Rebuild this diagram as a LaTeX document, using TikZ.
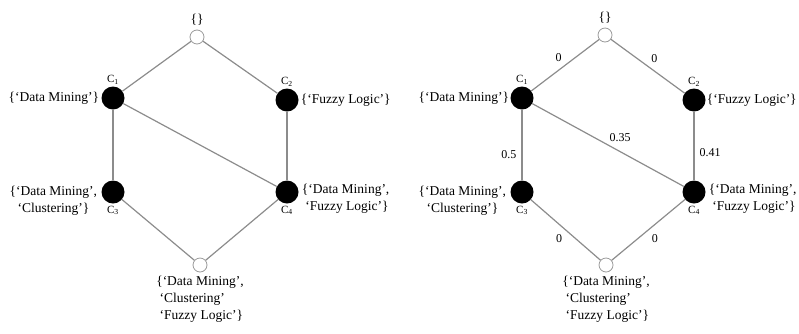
\documentclass[tikz,border=0pt]{standalone}
\usepackage{fontspec}
\setmainfont{Liberation Serif}
\usepackage{xcolor}
\definecolor{cEdge}{HTML}{8C8C8C}
\definecolor{cNode}{HTML}{000000}
\definecolor{cOpen}{HTML}{9A9A9A}
\usepackage{tikz}
\usetikzlibrary{positioning}
\tikzset{
  node-open/.style={circle,draw=cOpen,thick,fill=white,minimum size=14pt,inner sep=0pt},
  node-full/.style={circle,fill=cNode,minimum size=23pt,inner sep=0pt},
  edge-line/.style={draw=cEdge,line width=1.2pt},
  item-text/.style={font=\fontsize{13.5}{17}\selectfont,inner sep=1pt},
  name-text/.style={font=\fontsize{11}{13}\selectfont,inner sep=1pt},
  weight-text/.style={font=\fontsize{12}{14}\selectfont,inner sep=1pt},
}

\begin{document}
\begin{tikzpicture}[x=1pt,y=-1pt]
  \useasboundingbox (0,0) rectangle (799,333);

  % left lattice
  \node[node-open] (lTop) at (197,37)  {};
  \node[node-full] (lC1)  at (113,98)  {};
  \node[node-full] (lC2)  at (287,100) {};
  \node[node-full] (lC3)  at (113,192) {};
  \node[node-full] (lC4)  at (287,192) {};
  \node[node-open] (lBot) at (200,265) {};
  \draw[edge-line] (lTop) -- (lC1);
  \draw[edge-line] (lTop) -- (lC2);
  \draw[edge-line] (lC1) -- (lC3);
  \draw[edge-line] (lC1) -- (lC4);
  \draw[edge-line] (lC2) -- (lC4);
  \draw[edge-line] (lC3) -- (lBot);
  \draw[edge-line] (lC4) -- (lBot);

  \node[item-text,above=3pt of lTop]  (lTopTxt) {\{\}};
  \node[name-text,above=1pt of lC1]   (lC1Nm) {C\textsubscript{1}};
  \node[name-text,above=1pt of lC2]   (lC2Nm) {C\textsubscript{2}};
  \node[name-text,below=1pt of lC3]   (lC3Nm) {C\textsubscript{3}};
  \node[name-text,below=1pt of lC4]   (lC4Nm) {C\textsubscript{4}};
  \node[item-text,left=1pt of lC1]    (lC1Txt) {\{`Data Mining'\}};
  \node[item-text,right=1pt of lC2]   (lC2Txt) {\{`Fuzzy Logic'\}};
  \node[item-text,align=center,left=3pt of lC3,yshift=-9pt] (lC3Txt)
    {\{`Data Mining',\\`Clustering'\}};
  \node[item-text,align=left,right=2pt of lC4,yshift=-7pt] (lC4Txt)
    {\{`Data Mining',\\\ `Fuzzy Logic'\}};
  \node[item-text,align=left,below=3pt of lBot] (lBotTxt)
    {\{`Data Mining',\\\ `Clustering'\\\ `Fuzzy Logic'\}};

  % right lattice, with weights
  \node[node-open] (rTop) at (605,35)  {};
  \node[node-full] (rC1)  at (522,98)  {};
  \node[node-full] (rC2)  at (694,100) {};
  \node[node-full] (rC3)  at (522,192) {};
  \node[node-full] (rC4)  at (694,192) {};
  \node[node-open] (rBot) at (606,265) {};
  \draw[edge-line] (rTop) -- node[weight-text,above left=2pt and 2pt]  {0}    (rC1);
  \draw[edge-line] (rTop) -- node[weight-text,above right=2pt and 2pt] {0}    (rC2);
  \draw[edge-line] (rC1)  -- node[weight-text,left=4pt,yshift=-10pt]  {0.5}  (rC3);
  \draw[edge-line] (rC1)  -- node[weight-text,above=2pt,xshift=12pt]  {0.35} (rC4);
  \draw[edge-line] (rC2)  -- node[weight-text,right=4pt,yshift=-7pt]  {0.41} (rC4);
  \draw[edge-line] (rC3)  -- node[weight-text,below left=3pt and 2pt]  {0}    (rBot);
  \draw[edge-line] (rC4)  -- node[weight-text,below right=3pt and 2pt] {0}    (rBot);

  \node[item-text,above=3pt of rTop]  (rTopTxt) {\{\}};
  \node[name-text,above=1pt of rC1]   (rC1Nm) {C\textsubscript{1}};
  \node[name-text,above=1pt of rC2]   (rC2Nm) {C\textsubscript{2}};
  \node[name-text,below=1pt of rC3]   (rC3Nm) {C\textsubscript{3}};
  \node[name-text,below=1pt of rC4]   (rC4Nm) {C\textsubscript{4}};
  \node[item-text,left=0pt of rC1]    (rC1Txt) {\{`Data Mining'\}};
  \node[item-text,right=0pt of rC2]   (rC2Txt) {\{`Fuzzy Logic'\}};
  \node[item-text,align=center,left=3pt of rC3,yshift=-9pt] (rC3Txt)
    {\{`Data Mining',\\`Clustering'\}};
  \node[item-text,align=left,right=2pt of rC4,yshift=-7pt] (rC4Txt)
    {\{`Data Mining',\\\ `Fuzzy Logic'\}};
  \node[item-text,align=left,below=3pt of rBot] (rBotTxt)
    {\{`Data Mining',\\\ `Clustering'\\\ `Fuzzy Logic'\}};
\end{tikzpicture}
\end{document}
